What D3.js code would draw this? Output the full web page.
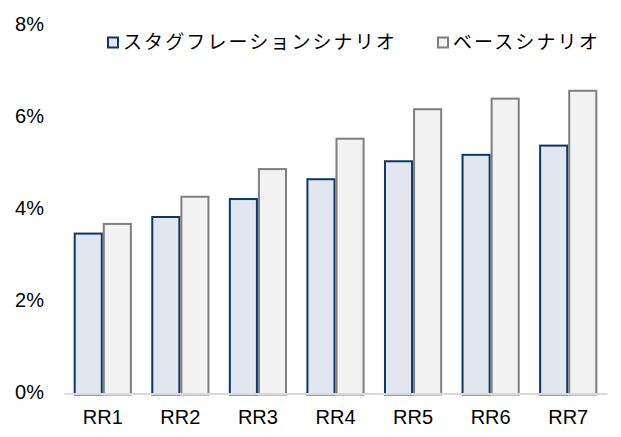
<!DOCTYPE html>
<html>
<head>
<meta charset="utf-8">
<script src="https://d3js.org/d3.v7.min.js"></script>
<style>
body { margin: 0; background: #fff; }
.tick text { font-family: "Liberation Sans", Arial, sans-serif; font-size: 20px; fill: #000; }
.legend text { font-family: "Noto Sans CJK JP", sans-serif; font-size: 19px; letter-spacing: 2.1px; fill: #000; }
</style>
</head>
<body>
<div id="chart"></div>
<script>
// data
var categories = ["RR1", "RR2", "RR3", "RR4", "RR5", "RR6", "RR7"];
var stagflation = [3.45, 3.81, 4.20, 4.63, 5.02, 5.16, 5.36];
var baseCase = [3.66, 4.25, 4.85, 5.51, 6.15, 6.38, 6.55];
var seriesNames = ["スタグフレーションシナリオ", "ベースシナリオ"];
var yTicks = [0, 2, 4, 6, 8];

const width = 621, height = 437;
const margin = {top: 24, right: 14, bottom: 45, left: 64};

var svg = d3.select("#chart").append("svg")
    .attr("width", width)
    .attr("height", height);

var x = d3.scaleBand()
    .domain(categories)
    .range([margin.left, width - margin.right])
    .paddingInner(0.25)
    .paddingOuter(0.125);

var x1 = d3.scaleBand()
    .domain([0, 1])
    .range([0, x.bandwidth()]);

var y = d3.scaleLinear()
    .domain([0, 8])
    .range([height - margin.bottom + 0.5, margin.top]);

var styles = [
  {fill: "#e1e6ef", stroke: "#0b3868"},
  {fill: "#f2f2f2", stroke: "#7f7f7f"}
];

var series = [stagflation, baseCase];

series.forEach(function(vals, s) {
  svg.append("g").selectAll("rect")
      .data(vals)
    .enter().append("rect")
      .attr("x", function(d, i) { return x(categories[i]) + x1(s) + 1; })
      .attr("y", function(d) { return y(d); })
      .attr("width", x1.bandwidth() - 2)
      .attr("height", function(d) { return y(0) - y(d) + 2; })
      .attr("fill", styles[s].fill)
      .attr("stroke", styles[s].stroke)
      .attr("stroke-width", 2);
});

// y axis (labels only)
var yAxis = svg.append("g")
    .attr("transform", "translate(" + 44 + ",0)")
    .call(d3.axisLeft(y).tickValues(yTicks).tickSize(0).tickPadding(0)
      .tickFormat(function(d) { return d + "%"; }));
yAxis.select(".domain").remove();

// x axis
var xAxis = svg.append("g")
    .attr("transform", "translate(0," + (y(0) + 1) + ")")
    .call(d3.axisBottom(x).tickSize(0).tickPadding(16));
xAxis.select(".domain")
    .attr("stroke", "#d9d9d9")
    .attr("stroke-width", 2);

// legend
var legendX = [107, 437];
var legend = svg.append("g").attr("class", "legend");
seriesNames.forEach(function(name, s) {
  legend.append("rect")
      .attr("x", legendX[s] + 1)
      .attr("y", 37.5)
      .attr("width", 10)
      .attr("height", 10)
      .attr("fill", styles[s].fill)
      .attr("stroke", styles[s].stroke)
      .attr("stroke-width", 2);
  legend.append("text")
      .attr("x", legendX[s] + 16)
      .attr("y", 42.5)
      .attr("dy", "0.35em")
      .text(name);
});
</script>
</body>
</html>
